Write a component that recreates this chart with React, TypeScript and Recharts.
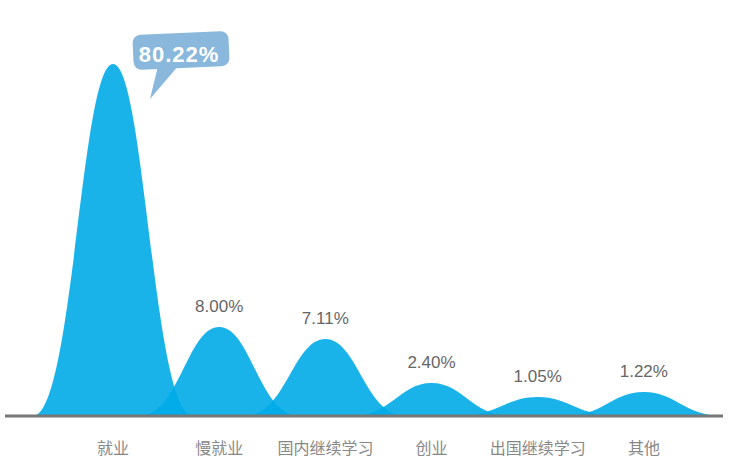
import { BarChart, Bar, XAxis, YAxis, LabelList } from 'recharts';

const categories = ['就业', '慢就业', '国内继续学习', '创业', '出国继续学习', '其他'];
const rates = ['80.22%', '8.00%', '7.11%', '2.40%', '1.05%', '1.22%'];
// peak heights as drawn in the picture (axis units 0..100)
const peakHeights = [88, 22.25, 19.25, 8.25, 4.75, 6];

const data = categories.map((name, i) => ({ name, rate: rates[i], peak: peakHeights[i] }));

const Bell = (props: any) => {
  const { x, y, width, height } = props;
  const cx = x + width / 2;
  const w = width * 1.51;
  const l = cx - w / 2;
  const b = y + height;
  const d = `M${l},${b} C${l + w * 0.25},${b} ${l + w * 0.3},${y} ${cx},${y} C${l + w * 0.7},${y} ${l + w * 0.75},${b} ${l + w},${b} Z`;
  return <path d={d} fill="#00abe8" fillOpacity={0.9} />;
};

const renderLabel = (props: any) => {
  const { x, y, width, value, index } = props;
  const cx = x + width / 2;
  if (index === 0) {
    return (
      <g>
        <rect
          x={cx + 20}
          y={y - 31}
          width={96}
          height={35}
          rx={8}
          fill="#8ab8dc"
          transform={`rotate(-2.5 ${cx + 68} ${y - 14})`}
        />
        <path d={`M${cx + 45},${y + 2} L${cx + 66},${y + 1} L${cx + 37},${y + 35} Z`} fill="#8ab8dc" />
        <text
          x={cx + 66}
          y={y - 2}
          textAnchor="middle"
          fill="#fff"
          fontSize={22}
          fontWeight="bold"
          letterSpacing={1}
          fontFamily="'Liberation Sans', Arial, sans-serif"
        >
          {value}
        </text>
      </g>
    );
  }
  return (
    <text
      x={cx}
      y={y - 15}
      textAnchor="middle"
      fill="#666"
      fontSize={17}
      fontFamily="'Liberation Sans', Arial, sans-serif"
    >
      {value}
    </text>
  );
};

export default function App() {
  return (
    <div>
      <style>{'body{margin:0}'}</style>
      <BarChart
        width={729}
        height={463}
        data={data}
        margin={{ top: 16, right: 6, left: 5, bottom: 17 }}
        barCategoryGap={0}
      >
        <XAxis
          dataKey="name"
          interval={0}
          tickLine={false}
          tickSize={6}
          tickMargin={21}
          padding={{ left: 55, right: 26 }}
          axisLine={{ stroke: '#777', strokeWidth: 3 }}
          tick={{ fill: '#888', fontSize: 16, fontFamily: "'Noto Sans CJK SC', sans-serif" }}
        />
        <YAxis hide domain={[0, 100]} />
        <Bar dataKey="peak" shape={Bell} isAnimationActive={false}>
          <LabelList dataKey="rate" content={renderLabel} />
        </Bar>
      </BarChart>
    </div>
  );
}
